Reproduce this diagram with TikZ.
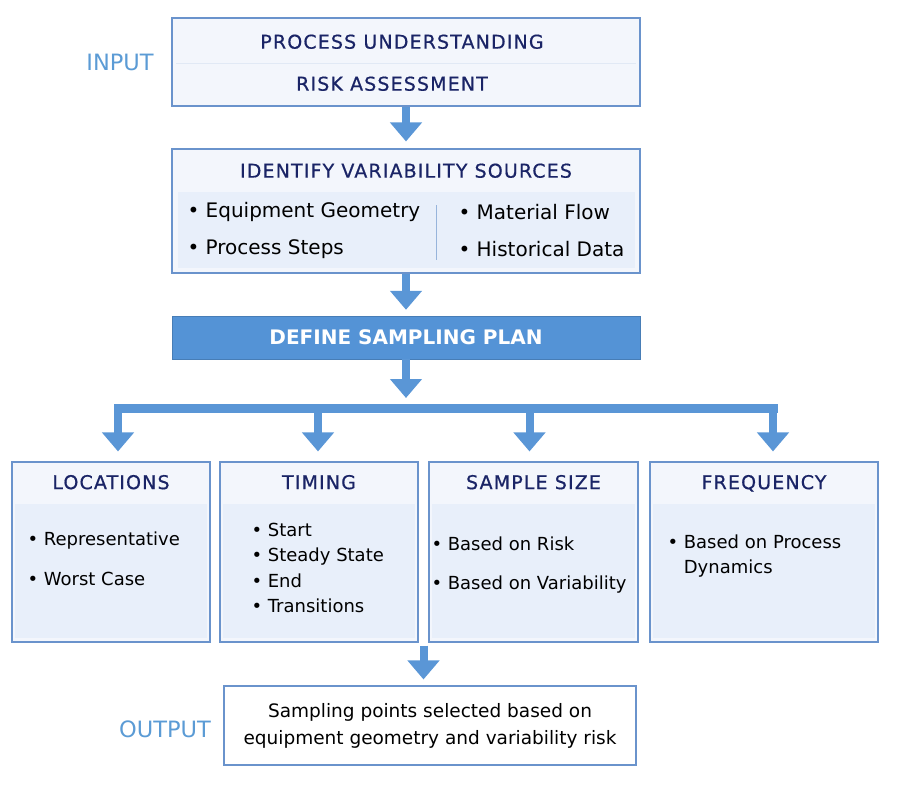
\documentclass[tikz,border=0pt]{standalone}
\usepackage{fontspec}
\setmainfont{DejaVu Sans}
\newfontfamily\hdrfont[LetterSpace=6,FakeBold=0.6]{DejaVu Sans}
\usetikzlibrary{arrows.meta,calc}
\definecolor{boxline}{HTML}{6A93CC}
\definecolor{boxfill}{HTML}{F3F6FC}
\definecolor{bandfill}{HTML}{E8EFFA}
\definecolor{flowblue}{HTML}{5A96D6}
\definecolor{planblue}{HTML}{5493D6}
\definecolor{navy}{HTML}{1A2466}
\definecolor{tagblue}{HTML}{5B9BD5}
\begin{document}
\begin{tikzpicture}[x=1pt,y=-1pt,
  box/.style={draw=boxline,fill=boxfill,line width=1.1pt,inner sep=0pt},
  hdr/.style={font=\hdrfont\fontsize{19}{22}\selectfont,text=navy,text height=0.73em,text depth=0pt,yshift=-3pt},
  item/.style={anchor=west,font=\fontsize{20}{24}\selectfont},
  smallitem/.style={anchor=west,align=left,font=\fontsize{18}{25.6}\selectfont},
  tag/.style={font=\fontsize{22.5}{26}\selectfont,text=tagblue},
  flow/.style={draw=flowblue,line width=8pt,-{Triangle[width=31pt,length=19pt]}}]
\useasboundingbox (0,0) rectangle (900,789);

\node[box,minimum width=468pt,minimum height=88pt] (input) at (406,62) {};
\draw[boxline!20] ($(input.west)+(5,1)$) -- ($(input.east)+(-5,1)$);
\node[hdr] (pu) at (402,42) {PROCESS UNDERSTANDING};
\node[hdr] (ra) at (392,84) {RISK ASSESSMENT};
\node[tag] (intag) at (120,62) {INPUT};

\node[box,minimum width=468pt,minimum height=124pt] (ident) at (406,211) {};
\fill[bandfill] (178,192) rectangle (635,268);
\node[hdr] (idt) at (406,171) {IDENTIFY VARIABILITY SOURCES};
\draw[boxline!70,line width=0.8pt] (436,205) -- (436,260);
\node[item] (geo) at (184,212) {\textbullet\ Equipment Geometry};
\node[item] (steps) at (184,249) {\textbullet\ Process Steps};
\node[item] (matflow) at (455,212) {\textbullet\ Material Flow};
\node[item] (hist) at (455,249) {\textbullet\ Historical Data};

\node[fill=planblue,draw=planblue!85!black,minimum width=468pt,minimum height=43pt,text=white,
  font=\fontsize{20}{24}\selectfont\bfseries] (plan) at (406,337.5) {DEFINE SAMPLING PLAN};

\draw[flow,shorten >=7pt] (input.south) -- (ident.north);
\draw[flow,shorten >=6pt] (ident.south) -- (plan.north);
\coordinate (bus) at (406,408);
\draw[flow,shorten >=10pt] (plan.south) -- (bus);

\node[box,minimum width=198pt,minimum height=180pt] (loc) at (111,552) {};
\node[box,minimum width=198pt,minimum height=180pt] (timing) at (319,552) {};
\node[box,minimum width=209pt,minimum height=180pt] (size) at (533.5,552) {};
\node[box,minimum width=228pt,minimum height=180pt] (freq) at (764,552) {};
\foreach \b/\t in {loc/LOCATIONS,timing/TIMING,size/SAMPLE SIZE,freq/FREQUENCY}{
  \fill[bandfill] ($(\b.west |- 0,504)+(4,0)$) rectangle ($(\b.east |- 0,638)+(-4,0)$);
  \node[hdr] (\b-t) at ($(\b.north)+(0,21)$) {\t};
}

\draw[flowblue,line width=9pt,line cap=rect] ($(loc.north |- bus)+(7,0)$) -- ($(freq.north |- bus)+(9,0)$);
\foreach \b/\d in {loc/7,timing/-1,size/-4,freq/9}
  \draw[flow,shorten >=10pt] ($(\b.north |- bus)+(\d,0)$) -- ($(\b.north)+(\d,0)$);

\node[smallitem] (loc-a) at (24,541) {\textbullet\ Representative};
\node[smallitem] (loc-b) at (24,579) {\textbullet\ Worst Case};
\node[smallitem] (timing-a) at (248,568) {\textbullet\ Start\\\textbullet\ Steady State\\\textbullet\ End\\\textbullet\ Transitions};
\node[smallitem] (size-a) at (428,544) {\textbullet\ Based on Risk};
\node[smallitem] (size-b) at (428,585) {\textbullet\ Based on Variability};
\node[smallitem] (freq-a) at (664,556) {\textbullet\ Based on Process\\\phantom{\textbullet\ }Dynamics};

\node[box,fill=white,minimum width=412pt,minimum height=79pt,align=center,
  font=\fontsize{18.5}{27}\selectfont] (output) at (430,725.5) {Sampling points selected based on\\equipment geometry and variability risk};
\node[tag] (outtag) at (165,729) {OUTPUT};

\coordinate (gap) at ($(timing.south east)!0.5!(size.south west)$);
\draw[flow,shorten <=3pt,shorten >=6pt] (gap) -- (gap |- output.north);
\end{tikzpicture}
\end{document}
